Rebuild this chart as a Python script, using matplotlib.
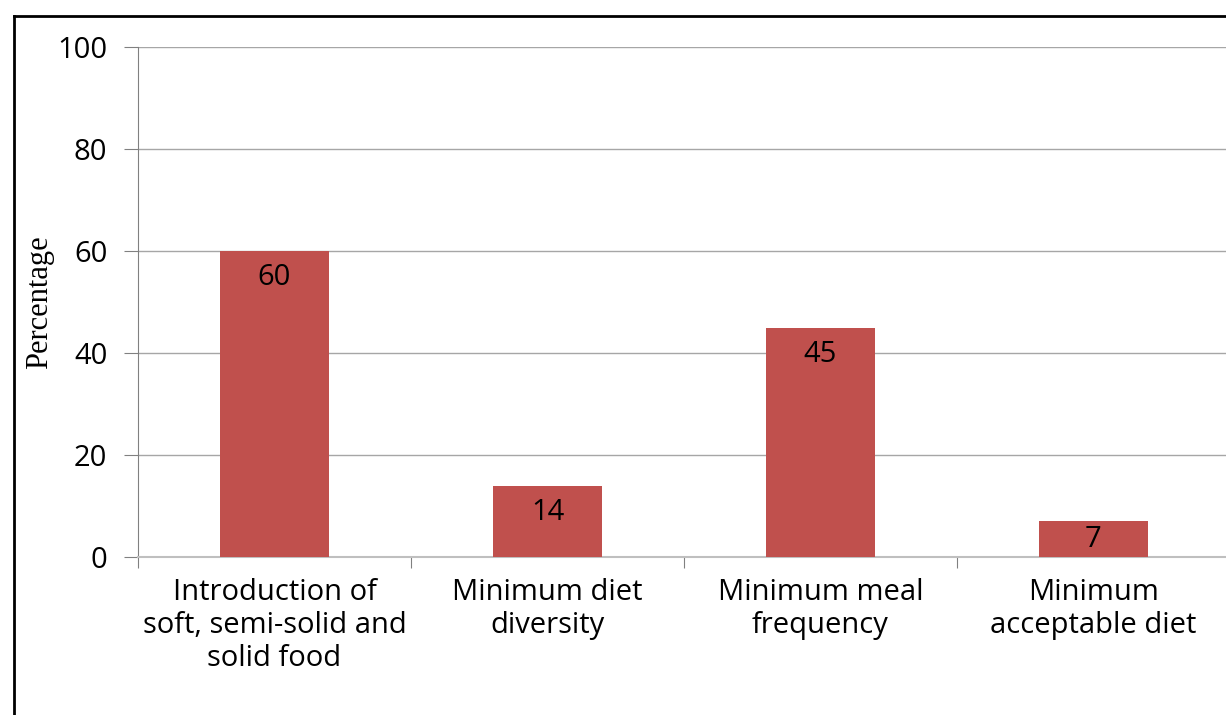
import matplotlib
matplotlib.use("Agg")
import matplotlib.pyplot as plt
from matplotlib.lines import Line2D

categories = [
    "Introduction of\nsoft, semi-solid and\nsolid food",
    "Minimum diet\ndiversity",
    "Minimum meal\nfrequency",
    "Minimum\nacceptable diet",
]
values = [60, 14, 45, 7]
y_ticks = [0, 20, 40, 60, 80, 100]

bar_color = "#C0504D"
grid_color = "#A6A6A6"
label_font = ["Open Sans", "DejaVu Sans"]

fig = plt.figure(figsize=(12.26, 7.15), dpi=100)
ax = fig.add_axes([138 / 1226, 1 - 557 / 715, 1092 / 1226, 510 / 715])

x = list(range(len(categories)))
bars = ax.bar(x, values, width=0.4, color=bar_color, zorder=3)

ax.set_xlim(-0.5, len(categories) - 0.5)
ax.set_ylim(0, 100)

# value labels inside the top of each bar; short bars get them centred lower
px_per_unit = 510 / 100
for rect, v in zip(bars, values):
    off = min(27, 0.5 * v * px_per_unit)
    ax.annotate(str(v), (rect.get_x() + rect.get_width() / 2, v),
                xytext=(0, -off), textcoords="offset pixels",
                ha="center", va="center", fontsize=21, family=label_font, zorder=4)

ax.set_yticks(y_ticks)
ax.set_yticklabels([str(t) for t in y_ticks], family=label_font, fontsize=21)
ax.yaxis.grid(True, color=grid_color, linewidth=1, zorder=0)

# category labels between boundary ticks
ax.set_xticks([i - 0.5 for i in range(len(categories) + 1)])
ax.set_xticklabels([])
ax.set_xticks(x, minor=True)
ax.set_xticklabels(categories, minor=True, family=label_font, fontsize=21,
                   linespacing=1.18)
ax.tick_params(axis="x", which="minor", length=0, pad=15)
ax.tick_params(axis="x", which="major", length=8, color="#808080", direction="out")
ax.tick_params(axis="y", length=10, color="#808080", direction="out", pad=12)

for side in ["top", "right"]:
    ax.spines[side].set_visible(False)
ax.spines["left"].set_color("#808080")
ax.spines["bottom"].set_color("#BFBFBF")
ax.spines["bottom"].set_linewidth(1.5)

fig.text(40 / 1226, 1 - 302 / 715, "Percentage", rotation=90, ha="center", va="center",
         family=["Liberation Serif", "DejaVu Serif"], fontsize=22)

# outer frame running off the right and bottom edges
x0, y0 = 13.5 / 1226, 1 - 15.5 / 715
fig.add_artist(Line2D([x0, x0], [y0, -0.05], color="black", linewidth=2,
                      transform=fig.transFigure))
fig.add_artist(Line2D([x0, 1.05], [y0, y0], color="black", linewidth=2,
                      transform=fig.transFigure))

fig.savefig("out.png", dpi=100)
